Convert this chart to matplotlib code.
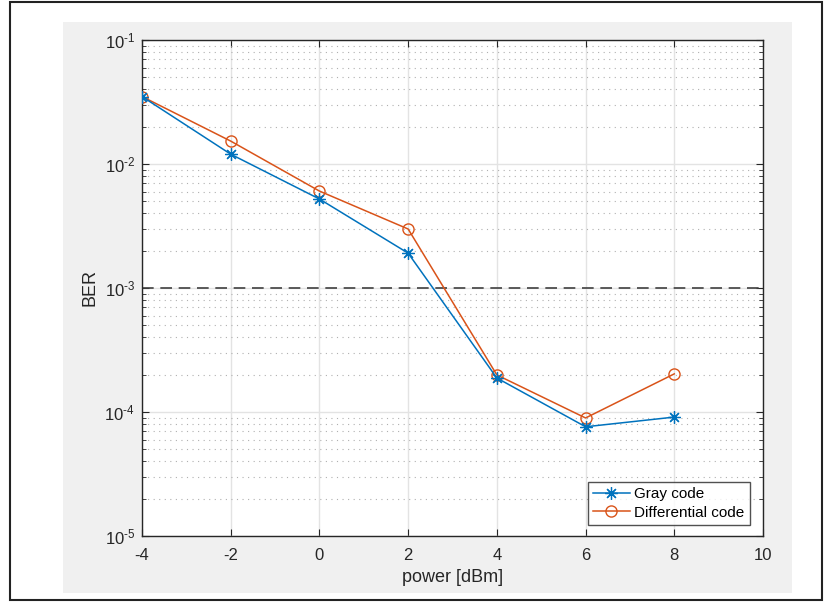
import numpy as np
import matplotlib.pyplot as plt
from matplotlib.patches import Rectangle
from matplotlib.ticker import LogLocator, NullFormatter, FuncFormatter

plt.rcParams['font.family'] = ['Liberation Sans', 'DejaVu Sans']
plt.rcParams['mathtext.fontset'] = 'custom'
plt.rcParams['mathtext.rm'] = 'Liberation Sans'
plt.rcParams['mathtext.it'] = 'Liberation Sans:italic'
plt.rcParams['axes.unicode_minus'] = False

# data
power = [-4, -2, 0, 2, 4, 6, 8]
ber_gray = [0.035, 0.0120, 0.00522, 0.00191, 1.88e-4, 7.6e-5, 9.1e-5]
ber_diff = [0.035, 0.0153, 0.00605, 0.00299, 1.99e-4, 8.95e-5, 2.03e-4]
threshold = 1e-3

W, H = 824, 602
fig = plt.figure(figsize=(W / 100, H / 100), dpi=100)
fig.patch.set_facecolor('white')

# grey panel and outer frame
fig.patches.append(Rectangle((63 / W, 1 - 593 / H), (792 - 63) / W, (593 - 22) / H,
                             transform=fig.transFigure, facecolor='#f0f0f0',
                             edgecolor='none', zorder=-2))
fig.patches.append(Rectangle((10 / W, 1 - 600 / H), (822 - 10) / W, (600 - 1.5) / H,
                             transform=fig.transFigure, facecolor='none',
                             edgecolor='#222222', linewidth=1.5, zorder=-1))

ax = fig.add_axes([142 / W, 1 - 536 / H, (763 - 142) / W, (536 - 40) / H])
ax.set_zorder(2)
ax.set_facecolor('white')

tc = '#262626'
ax.plot(power, ber_gray, '-', color='#0072BD', lw=1.1, marker=(8, 2, 0),
        ms=9, mew=0.9, label='Gray code', zorder=4)
ax.plot(power, ber_diff, '-', color='#D95319', lw=1.1, marker='o', mfc='none',
        ms=8, mew=1.0, label='Differential code', zorder=3)
ax.axhline(threshold, color='#404040', lw=1.2, ls=(0, (7, 4)), zorder=2)

ax.set_yscale('log')
ax.set_xlim(-4, 10)
ax.set_ylim(1e-5, 1e-1)
ax.set_xticks(np.arange(-4, 11, 2))
ax.yaxis.set_major_locator(LogLocator(base=10, numticks=10))
ax.yaxis.set_minor_locator(LogLocator(base=10, subs=np.arange(2, 10), numticks=10))
ax.yaxis.set_minor_formatter(NullFormatter())


def pow_label(v, pos):
    e = int(round(np.log10(v)))
    s = ('-' if e < 0 else '') + str(abs(e))
    return r'$\mathdefault{10^{\text{%s}}}$' % s


ax.yaxis.set_major_formatter(FuncFormatter(pow_label))

ax.grid(True, which='major', color='#e3e3e3', lw=1.0, ls='-')
ax.grid(True, which='minor', axis='y', color='#b0b0b0', lw=0.8, ls=(0, (1, 4)))
ax.set_axisbelow(True)

ax.tick_params(which='both', direction='in', top=True, right=True, colors=tc,
               labelsize=12)
ax.tick_params(which='major', length=5)
ax.tick_params(which='minor', length=3)
ax.tick_params(axis='x', pad=9)
ax.tick_params(axis='y', pad=5)
for s in ax.spines.values():
    s.set_color(tc)
    s.set_linewidth(1.0)

ax.set_xlabel('power [dBm]', fontsize=13, color=tc, labelpad=4)
ax.set_ylabel('BER', fontsize=13, color=tc, labelpad=4)

leg = ax.legend(loc='lower right', bbox_to_anchor=(0.979, 0.022), fontsize=11,
                frameon=True, fancybox=False, handlelength=2.4, borderpad=0.35,
                labelspacing=0.3, handletextpad=0.3, borderaxespad=0)
leg.get_frame().set_edgecolor(tc)
leg.get_frame().set_linewidth(1.0)

fig.savefig('out.png', dpi=100)
